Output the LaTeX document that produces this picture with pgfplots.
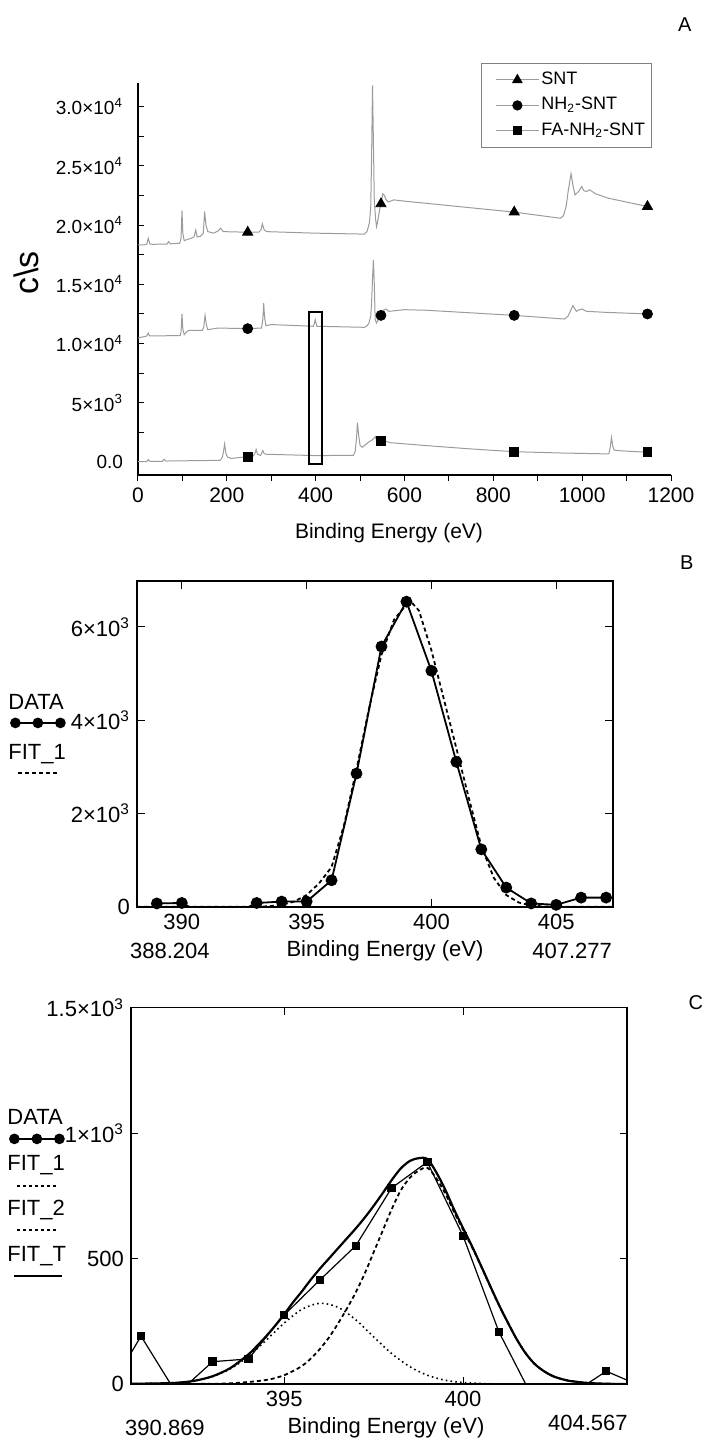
\documentclass[border=0pt]{standalone}
\usepackage{fontspec}
\setmainfont{Liberation Sans}
\usepackage{pgfplots}
\pgfplotsset{compat=1.18, scaled ticks=false}
\definecolor{spec}{RGB}{155,155,155}
\newcommand{\fs}[1]{\fontsize{#1}{#1}\selectfont}
\begin{document}
\begin{tikzpicture}
\path[use as bounding box] (0pt,0pt) rectangle (354pt,-720.5pt);
% ---------------- Panel A ----------------
\begin{axis}[
  at={(69pt,-237.5pt)}, anchor=south west,
  scale only axis, width=266.5pt, height=196pt,
  xmin=0, xmax=1200, ymin=-1100, ymax=32000,
  scaled y ticks=false, scaled x ticks=false,
  axis lines*=left,
  axis line style={black, line width=0.6pt},
  xtick={0,200,...,1200},
  xticklabels={0,200,400,600,800,1000,1200},
  minor x tick num=1,
  ytick={0,5000,...,30000},
  yticklabels={0.0, 5×10\textsuperscript{3}, 1.0×10\textsuperscript{4}, 1.5×10\textsuperscript{4}, 2.0×10\textsuperscript{4}, 2.5×10\textsuperscript{4}, 3.0×10\textsuperscript{4}},
  minor y tick num=1,
  xtick align=outside, ytick align=inside,
  major tick length=3pt, minor tick length=3pt,
  tick style={black, line width=0.5pt},
  x tick label style={font=\fs{10.5}},
  y tick label style={font=\fs{9.5}, xshift=-4pt},
  xlabel={Binding Energy (eV)},
  xlabel style={at={(axis description cs:0.471,-0.148)}, anchor=center, font=\fs{10.5}},
  ylabel={c\textbackslash s},
  ylabel style={at={(axis description cs:-0.21,0.515)}, anchor=center, font=\fs{17}},
  legend style={at={(0.6435,1.051)}, anchor=north west, draw=gray, line width=0.4pt,
    inner xsep=2pt, inner ysep=3pt, row sep=2.25pt, column sep=0pt,
    font=\fs{9}, nodes={inner sep=1pt, text height=6.5pt, text depth=2pt}},
  legend cell align=left,
  legend image code/.code={\path (0pt,0pt); \draw[mark repeat=2,mark phase=2,#1] plot coordinates {(5pt,0pt) (15.75pt,0pt) (26.5pt,0pt)};},
  extra description/.code={\node[font=\fs{10}] at (1.026,1.148) {A};},
]
\addplot[spec, line width=0.5pt, forget plot] coordinates {
(0,18330)(13,18330)(20,18400)(23,18890)(27,18400)(33,18380)(65,18400)(69,18600)(73,18420)(94,18470)(97,18900)(99,21230)(101,19300)(104,18690)(112,18800)(120,18890)(126,19000)(130,19590)(133,19000)(140,19050)(147,19300)(150,21150)(153,20000)(157,19460)(170,19320)(180,19500)(186,19740)(192,19450)(247,19400)(272,19400)(277,19600)(280,20110)(284,19600)(290,19450)(400,19320)(510,19240)(516,19500)(521,20200)(524,21500)(526,26000)(528,31800)(530,27000)(532,22000)(535,20500)(537,19870)(540,20400)(544,21300)(547,21800)(551,22640)(555,22500)(558,22190)(563,21950)(576,22130)(601,22020)(847,21100)(951,20580)(958,20800)(964,21600)(969,23000)(975,24330)(980,23200)(984,22560)(992,22840)(999,23260)(1004,22900)(1010,22840)(1017,22980)(1030,22650)(1058,22280)(1147,21570)(1150,21560)
};
\addplot[spec, line width=0.5pt, forget plot] coordinates {
(0,10470)(17,10610)(20,10650)(23,10890)(26,10650)(40,10650)(95,10670)(97,11000)(99,12500)(101,11200)(104,10750)(110,11000)(115,11120)(145,11120)(148,11400)(151,12380)(154,11600)(157,11170)(180,11310)(247,11260)(278,11310)(281,12000)(283,13420)(285,12200)(288,11510)(300,11600)(395,11460)(397,11700)(399,12020)(401,11700)(403,11460)(510,11370)(516,11500)(520,11740)(524,12300)(526,13500)(528,15500)(530,17060)(532,15000)(534,12020)(537,11740)(541,12000)(547,12380)(552,12810)(558,12920)(565,12720)(600,12860)(650,12810)(847,12380)(960,12070)(968,12300)(973,12700)(979,13200)(984,12900)(987,12720)(993,12850)(1000,12920)(1005,12800)(1010,12720)(1050,12640)(1147,12500)(1150,12500)
};
\addplot[spec, line width=0.5pt, forget plot] coordinates {
(0,30)(20,40)(23,200)(27,60)(55,60)(59,230)(63,80)(185,140)(190,400)(193,1000)(195,1520)(198,700)(202,400)(210,300)(240,420)(247,450)(260,520)(264,800)(266,1070)(269,650)(276,560)(279,800)(281,960)(284,700)(290,650)(400,540)(485,560)(489,900)(492,2000)(494,3320)(497,2200)(500,1400)(505,1250)(512,1450)(520,1700)(525,1800)(530,1950)(534,2140)(538,1750)(547,1770)(555,1780)(568,1630)(650,1380)(750,1100)(847,870)(950,760)(1060,680)(1063,1200)(1066,2060)(1069,1300)(1072,1010)(1080,960)(1147,820)(1150,820)
};
\addplot[only marks, mark=triangle*, mark size=2.9pt, black, forget plot] coordinates {(247,19400)(547,21800)(847,21100)(1147,21570)};
\addplot[only marks, mark=*, mark size=2.5pt, black, forget plot] coordinates {(247,11260)(547,12380)(847,12380)(1147,12500)};
\addplot[only marks, mark=square*, mark size=2.2pt, black, forget plot] coordinates {(247,450)(547,1770)(847,870)(1147,820)};
\draw[black, line width=1pt] (axis cs:385,-150) rectangle (axis cs:414,12700);
\addlegendimage{spec, line width=0.5pt, mark=triangle*, mark size=2.6pt, mark options={black, fill=black}}
\addlegendentry{SNT}
\addlegendimage{spec, line width=0.5pt, mark=*, mark size=2.3pt, mark options={black, fill=black}}
\addlegendentry{NH\textsubscript{2}-SNT}
\addlegendimage{spec, line width=0.5pt, mark=square*, mark size=2pt, mark options={black, fill=black}}
\addlegendentry{FA-NH\textsubscript{2}-SNT}
\end{axis}
% ---------------- Panel B ----------------
\begin{axis}[
  at={(68.5pt,-453.35pt)}, anchor=south west,
  scale only axis, width=238pt, height=163pt,
  xmin=388.204, xmax=407.277, ymin=0, ymax=6990,
  tick align=inside, major tick length=4pt,
  axis line style={black, line width=0.8pt},
  tick style={black, line width=0.6pt},
  xtick={390,395,400,405}, xticklabels={390,395,400,405},
  ytick={0,2000,4000,6000},
  yticklabels={0, 2×10\textsuperscript{3}, 4×10\textsuperscript{3}, 6×10\textsuperscript{3}},
  tick label style={font=\fs{11}},
  xlabel={Binding Energy (eV)},
  xlabel style={at={(axis description cs:0.521,-0.135)}, anchor=center, font=\fs{11}},
  legend style={at={(-0.271,0.6555)}, anchor=north west, draw=none, fill=none,
    inner sep=0pt, row sep=14.5pt, column sep=0pt, font=\fs{11},
    nodes={inner sep=0pt, text height=8pt, text depth=2.5pt}},
  legend cell align=left,
  extra description/.code={
    \node[font=\fs{10}] at (1.155,1.054) {B};
    \node[font=\fs{11}] at (0.069,-0.135) {388.204};
    \node[font=\fs{11}] at (0.914,-0.135) {407.277};
  },
]
\addplot[black, line width=0.9pt, dash pattern=on 2pt off 1.5pt, forget plot] coordinates {
(388.204,0)(393,0)(393.5,10)(394,40)(394.5,110)(395,250)(395.5,500)(396,850)(396.5,1750)(397,2950)(397.5,4250)(398,5400)(398.5,6150)(399,6480)(399.25,6500)(399.5,6350)(400,5500)(400.5,4450)(401,3400)(401.5,2330)(402,1300)(402.5,620)(403,250)(403.5,90)(404,25)(404.5,5)(405,0)(407.277,0)
};
\addplot[black, line width=0.9pt, mark=*, mark size=2.5pt, forget plot] coordinates {
(389,70)(390,80)(391,-200)(392,-180)(393,80)(394,110)(395,110)(396,567)(397,2856)(398,5579)(399,6541)(400,5059)(401,3106)(402,1230)(403,410)(404,70)(405,40)(406,195)(407,195)
};
\addlegendimage{legend image code/.code={\draw[overlay, black, line width=0.9pt, mark=*, mark size=2.2pt] plot coordinates {(3.5pt,-9.5pt) (14.75pt,-9.5pt) (26pt,-9.5pt)};}}
\addlegendentry{DATA}
\addlegendimage{legend image code/.code={\draw[overlay, black, line width=0.9pt, dash pattern=on 2pt off 1.5pt] (5pt,-9.5pt) -- (26pt,-9.5pt);}}
\addlegendentry{FIT\_1}
\end{axis}
% ---------------- Panel C ----------------
\begin{axis}[
  at={(65.5pt,-692pt)}, anchor=south west,
  scale only axis, width=248pt, height=188.15pt,
  xmin=390.72, xmax=404.58, ymin=0, ymax=1500,
  tick align=inside, major tick length=3.5pt,
  axis line style={black, line width=0.7pt},
  tick style={black, line width=0.6pt},
  xtick={395,400}, xticklabels={395,400},
  ytick={0,500,1000,1500},
  yticklabels={0, 500, 1×10\textsuperscript{3}, 1.5×10\textsuperscript{3}},
  tick label style={font=\fs{11}},
  xlabel={Binding Energy (eV)},
  xlabel style={at={(axis description cs:0.514,-0.117)}, anchor=center, font=\fs{11}},
  legend style={at={(-0.25,0.7335)}, anchor=north west, draw=none, fill=none,
    inner sep=0pt, row sep=12.3pt, column sep=0pt, font=\fs{11},
    nodes={inner sep=0pt, text height=8pt, text depth=2.5pt}},
  legend cell align=left,
  extra description/.code={
    \node[font=\fs{10}] at (1.139,1.0125) {C};
    \node[font=\fs{11}] at (0.0685,-0.117) {390.869};
    \node[font=\fs{11}] at (0.921,-0.104) {404.567};
  },
]
\addplot[black, line width=0.9pt, dash pattern=on 2pt off 1.5pt, smooth, forget plot] coordinates {
(390.72,0)(392,0)(393,1)(393.5,3)(394,8)(394.5,16)(394.75,24)(395,35)(395.25,52)(395.5,72)(395.75,102)(396,140)(396.25,185)(396.5,240)(396.75,300)(397,365)(397.25,440)(397.5,525)(397.75,610)(398,695)(398.25,770)(398.5,820)(398.75,850)(399,862)(399.25,820)(399.5,760)(399.75,685)(400,615)(400.25,545)(400.5,470)(400.75,392)(401,315)(401.25,245)(401.5,178)(401.75,122)(402,80)(402.25,52)(402.5,32)(402.75,20)(403,12)(403.5,4)(404,1)(404.58,0)
};
\addplot[black, line width=0.8pt, dash pattern=on 0.8pt off 1.6pt, smooth, forget plot] coordinates {
(390.72,1)(391.5,2.5)(392,5)(392.5,13)(393,30)(393.5,61)(394,110)(394.5,175)(395,243)(395.5,298)(396,322)(396.5,306)(397,256)(397.5,188)(398,122)(398.5,70)(399,35)(399.5,15)(400,6)(400.5,2)(401,0.6)(402,0)(404.58,0)
};
\addplot[black, line width=1.1pt, smooth, forget plot] coordinates {
(390.72,1)(391.5,2.5)(392,5)(392.5,13)(393,31)(393.5,64)(394,118)(394.25,153)(394.5,191)(394.75,233)(395,278)(395.25,326)(395.5,370)(395.75,417)(396,460)(396.25,500)(396.5,540)(396.75,580)(397,620)(397.25,663)(397.5,710)(397.75,760)(398,812)(398.25,858)(398.5,888)(398.75,900)(399,897)(399.25,844)(399.5,775)(399.75,695)(400,621)(400.25,549)(400.5,472)(400.75,393)(401,316)(401.25,245)(401.5,178)(401.75,122)(402,80)(402.25,52)(402.5,32)(402.75,20)(403,12)(403.5,4)(404,1)(404.58,0)
};
\addplot[black, line width=0.6pt, mark=square*, mark size=1.8pt, forget plot] coordinates {
(390,-50)(391,191)(392,-40)(393,89)(394,100)(395,275)(396,415)(397,551)(398,781)(399,885)(400,590)(401,208)(402,-70)(403,-43)(404,51)(405,-10)
};
\addlegendimage{legend image code/.code={\draw[overlay, black, line width=0.9pt, mark=*, mark size=2.2pt] plot coordinates {(3.5pt,-10pt) (14.75pt,-10pt) (26pt,-10pt)};}}
\addlegendentry{DATA}
\addlegendimage{legend image code/.code={\draw[overlay, black, line width=1pt, dash pattern=on 1.5pt off 1.5pt] (5pt,-10.6pt) -- (26pt,-10.6pt);}}
\addlegendentry{FIT\_1}
\addlegendimage{legend image code/.code={\draw[overlay, black, line width=0.9pt, dash pattern=on 1.5pt off 1.5pt] (5pt,-10pt) -- (25pt,-10pt);}}
\addlegendentry{FIT\_2}
\addlegendimage{legend image code/.code={\draw[overlay, black, line width=1.1pt] (3.5pt,-10pt) -- (27.5pt,-10pt);}}
\addlegendentry{FIT\_T}
\end{axis}
\end{tikzpicture}
\end{document}
